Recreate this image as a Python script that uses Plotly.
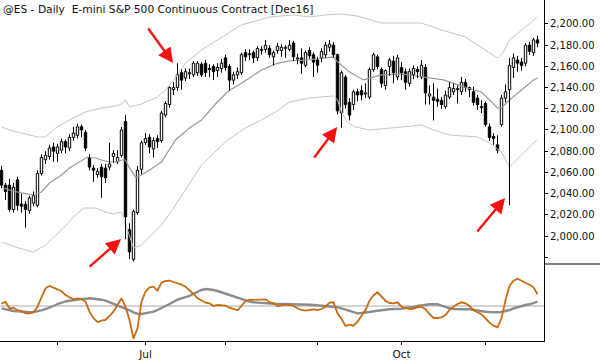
import plotly.graph_objects as go

# ---------------- data ----------------
month_tick_idx = [14, 36, 56, 79, 100, 121]
month_tick_text = ["", "Jul", "", "", "Oct", ""]
price_ticks = list(range(1980, 2201, 20))

opens = [2062, 2048, 2048, 2025, 2053, 2030, 2030, 2024, 2031, 2029,
         2059, 2072, 2075, 2084, 2078, 2081, 2089, 2083, 2093, 2095,
         2103, 2098, 2074, 2064, 2058, 2065, 2064, 2065, 2075, 2070,
         2076, 2108, 2006, 1978, 2022, 2063, 2088, 2093, 2082, 2092,
         2090, 2114, 2124, 2138, 2140, 2154, 2149, 2153, 2152, 2154,
         2162, 2163, 2158, 2160, 2156, 2158, 2168, 2160, 2147, 2152,
         2154, 2173, 2171, 2173, 2168, 2175, 2176, 2177, 2169, 2175,
         2175, 2177, 2176, 2182, 2167, 2168, 2161, 2175, 2171, 2166,
         2168, 2171, 2178, 2180, 2171, 2116, 2150, 2126, 2124, 2136,
         2137, 2134, 2131, 2157, 2169, 2157, 2142, 2160, 2165, 2150,
         2159, 2155, 2144, 2152, 2157, 2150, 2159, 2132, 2131, 2129,
         2128, 2122, 2131, 2136, 2138, 2136, 2145, 2140, 2136, 2130,
         2122, 2125, 2103, 2094, 2086, 2105, 2130, 2138, 2159, 2166,
         2164, 2163, 2180, 2173, 2185]
highs = [2066, 2050, 2054, 2050, 2056, 2040, 2033, 2038, 2042, 2062,
         2077, 2080, 2086, 2088, 2087, 2092, 2091, 2096, 2103, 2106,
         2105, 2100, 2077, 2067, 2064, 2068, 2068, 2088, 2081, 2081,
         2103, 2114, 2012, 2025, 2066, 2090, 2097, 2096, 2093, 2095,
         2118, 2127, 2141, 2145, 2163, 2157, 2158, 2158, 2165, 2165,
         2164, 2166, 2162, 2162, 2163, 2167, 2171, 2162, 2155, 2159,
         2173, 2176, 2176, 2175, 2179, 2179, 2185, 2180, 2175, 2182,
         2181, 2180, 2185, 2184, 2172, 2177, 2175, 2178, 2173, 2169,
         2177, 2183, 2185, 2183, 2172, 2156, 2152, 2130, 2138, 2139,
         2142, 2144, 2159, 2173, 2171, 2159, 2157, 2168, 2170, 2171,
         2164, 2158, 2158, 2161, 2160, 2166, 2162, 2142, 2144, 2139,
         2131, 2137, 2145, 2144, 2142, 2150, 2148, 2141, 2141, 2133,
         2128, 2127, 2106, 2097, 2095, 2133, 2143, 2168, 2172, 2170,
         2168, 2182, 2183, 2187, 2189]
lows = [2045, 2034, 2023, 2022, 2024, 2022, 2008, 2021, 2028, 2027,
        2057, 2068, 2072, 2070, 2070, 2078, 2078, 2080, 2090, 2092,
        2093, 2080, 2062, 2051, 2055, 2036, 2050, 2062, 2069, 2068,
        2074, 1997, 1978, 1976, 2020, 2058, 2086, 2078, 2074, 2083,
        2088, 2112, 2121, 2133, 2137, 2138, 2146, 2148, 2150, 2151,
        2150, 2150, 2150, 2147, 2150, 2154, 2156, 2137, 2143, 2148,
        2152, 2165, 2166, 2163, 2165, 2171, 2173, 2168, 2161, 2172,
        2169, 2168, 2174, 2165, 2162, 2153, 2159, 2167, 2150, 2154,
        2164, 2168, 2174, 2168, 2115, 2102, 2120, 2109, 2119, 2127,
        2128, 2130, 2129, 2155, 2157, 2140, 2138, 2151, 2144, 2147,
        2147, 2138, 2141, 2148, 2149, 2148, 2124, 2124, 2109, 2122,
        2120, 2120, 2129, 2133, 2125, 2133, 2136, 2131, 2123, 2119,
        2116, 2103, 2090, 2086, 2078, 2103, 2126, 2029, 2149, 2155,
        2156, 2160, 2171, 2170, 2178]
closes = [2048, 2042, 2025, 2046, 2029, 2028, 2025, 2036, 2038, 2059,
          2074, 2076, 2083, 2080, 2084, 2089, 2084, 2093, 2097, 2103,
          2100, 2083, 2065, 2062, 2061, 2056, 2055, 2068, 2078, 2074,
          2100, 2018, 1985, 2023, 2062, 2088, 2092, 2084, 2090, 2089,
          2116, 2125, 2140, 2140, 2152, 2147, 2155, 2154, 2163, 2163,
          2152, 2154, 2157, 2155, 2159, 2163, 2159, 2147, 2152, 2155,
          2171, 2169, 2172, 2168, 2177, 2176, 2180, 2171, 2173, 2179,
          2178, 2178, 2180, 2169, 2168, 2163, 2173, 2170, 2164, 2161,
          2174, 2180, 2181, 2171, 2118, 2154, 2124, 2114, 2136, 2133,
          2133, 2135, 2157, 2171, 2160, 2144, 2156, 2166, 2154, 2168,
          2154, 2145, 2155, 2158, 2155, 2161, 2135, 2134, 2128, 2127,
          2124, 2133, 2140, 2139, 2139, 2145, 2140, 2138, 2126, 2124,
          2121, 2105, 2093, 2092, 2081, 2130, 2136, 2161, 2168, 2163,
          2161, 2180, 2174, 2185, 2182]

# envelope / average lines, read at sample bars
upper_idx = [0, 2, 5, 9, 11, 13.5, 16, 18.5, 21, 25, 28.5, 30, 31, 32, 35, 39, 41,
             43, 46, 50, 55, 60, 67, 73, 77, 81, 85, 89, 95, 100, 105, 110, 116,
             124, 125.5, 127, 130, 134]
upper_val = [2102.8, 2100, 2097.2, 2093.4, 2093.4, 2101.9, 2107.5, 2112.3, 2117,
             2120.8, 2122.6, 2124.5, 2128.3, 2121.7, 2124.5, 2131.1, 2137.7,
             2147.2, 2163.2, 2175.5, 2187.7, 2199.1, 2206.6, 2208.5, 2206.6,
             2208.5, 2209.4, 2207.5, 2200.9, 2200.9, 2200.9, 2194.3, 2187.7,
             2167.9, 2173.6, 2184.9, 2194.3, 2206.6]
mid_idx = [0, 2, 5, 8, 10, 12, 15, 17, 21.5, 23.5, 25, 27, 29, 30, 31, 32, 33.5,
           35, 37, 40, 43.5, 47, 50, 53.5, 57, 58.5, 62, 65, 68.5, 72, 76.5, 83,
           84, 87, 90.5, 95, 100, 105, 110.5, 116.5, 120, 124, 125, 127, 133, 134]
mid_val = [2046.2, 2043.4, 2040.6, 2038.7, 2041.5, 2050, 2057.5, 2064.2, 2074.5,
           2073.6, 2071.7, 2069.8, 2069.8, 2071.7, 2071.7, 2064.2, 2055.7, 2057.5,
           2062.3, 2069.8, 2090.6, 2101.9, 2109.4, 2124.5, 2137.7, 2140.6, 2149.1,
           2156.6, 2162.3, 2165.1, 2166, 2168.9, 2164.2, 2154.7, 2147.2, 2151.9,
           2152.8, 2150, 2147.2, 2139.6, 2135.8, 2120.8, 2120.8, 2128.3, 2147.2,
           2149.1]
lower_idx = [0, 3.5, 8, 11, 15, 18.5, 20.5, 23.5, 26, 28, 30, 30.5, 32, 33, 35,
             37, 40, 43.5, 50, 56.5, 61, 65, 68.5, 72, 77, 83, 84, 85, 86.5, 88.5,
             92, 100, 105, 108, 112, 119, 122, 125, 127, 133, 134]
lower_val = [1994.3, 1989.6, 1984.9, 1991.5, 2005.7, 2019.8, 2026.4, 2026.4,
             2022.6, 2020.8, 2022.6, 2017, 2001, 1988.7, 1991.5, 1999.1, 2010.4,
             2029.2, 2067, 2090.6, 2101.9, 2109.4, 2117, 2126.4, 2130.2, 2132.1,
             2128.3, 2117, 2107.5, 2102.8, 2100, 2102.8, 2104.7, 2100, 2095.3,
             2093.4, 2087.7, 2079.2, 2065.1, 2087.7, 2090.6]

# lower-panel oscillator (unlabelled units)
osc_fast = [2.3, 4, -2.3, -2, -4, -5, -7.3, -7.3, -6.3, -0.7,
            8.7, 17.7, 20, 18.7, 16.7, 14.7, 11, 8.7, 6.7, 7.7,
            7, 4.3, -5.7, -12.3, -16, -14.7, -14, -10, -5.7, 1,
            7.7, -0.7, -14, -32.7, -22.3, 4.3, 14.3, 18.7, 19.3, 15.3,
            23.3, 25, 25.3, 24, 22.7, 21.3, 19.3, 16, 12, 7.7,
            5.3, 3.3, 2.7, 0, 1, 0.7, 0.3, -1.7, -3.3, -4.3,
            0, 5, 6, 6, 6, 6, 6.7, 4, 2.7, 0,
            0.7, 1.3, 1, 0, -2.3, -4, -4.7, -4, -3.3, -4,
            -3, -0.7, 3.3, 3.7, -7.3, -12.7, -20, -18.7, -19.7, -15.7,
            -10, -4, 5.3, 10.7, 13.7, 10, 5.3, 3, 2.7, 3.7,
            -0.7, -2, -3, -2.7, -1.3, -0.7, -3.3, -8, -12, -12,
            -11.3, -9, -4, -0.7, 2, 3.7, 2.7, 0, -4, -6.3,
            -8.3, -12.3, -16.7, -19.7, -21.3, -12.3, 6, 20, 25.3, 27.3,
            25.7, 23.3, 21.3, 18.7, 11.7]
osc_slow = [-2.3, -3.3, -4.3, -5, -5.3, -5.7, -6, -6.3, -6, -5.3,
            -4.3, -3, -1.7, 0, 2, 3.7, 4.7, 5.3, 6, 6.7,
            7, 7.3, 7.7, 7.3, 7, 6.3, 5.3, 3.7, 2.3, 1,
            -0.3, -2, -4.3, -6.3, -7.7, -8, -7.3, -6.7, -5.7, -4,
            -2.3, 0, 2, 4.3, 6.3, 7.7, 8.7, 10, 12.3, 14.3,
            16, 17, 16.7, 16, 15, 13.7, 12.3, 11, 9.7, 8.3,
            6.7, 5.3, 4.3, 3.7, 3.3, 3, 2.7, 2.3, 2, 2,
            2, 2, 2, 2, 2, 2, 1.7, 1.3, 1, 0.7,
            0.3, 0, -0.7, -1, -1.3, -2.3, -3.7, -5, -6.3, -7.3,
            -7, -6.7, -6, -5.3, -4.7, -4, -3.3, -3.3, -3, -3,
            -2.7, -2, -1.7, -1, 0, 0.7, 1.3, 1.7, 1.7, 1.7,
            0.3, -1.3, -2.3, -3, -3.3, -3.3, -3.3, -3.3, -4, -4.3,
            -5, -5.7, -6, -6.3, -6.3, -6, -5.3, -4, -2.3, -1,
            0, 1, 1.7, 2.7, 4.3]

# arrows: (bar position, price at head, pixel offset of tail)
arrow_bar = [42.9, 29.9, 83.9, 125.9]
arrow_price = [2163.2, 1997.2, 2102.8, 2035.8]
arrow_dx = [-26, -33, -24, -29]
arrow_dy = [-36, 29, 32, 35]

title_text = "@ES - Daily \u00a0E-mini S&P 500 Continuous Contract [Dec16]"

# ---------------- figure ----------------
FONT = "DejaVu Sans"
n = len(closes)
idx = list(range(n))
xr = [-0.375, 135.625]

fig = go.Figure()

# bands
fig.add_trace(go.Scatter(x=upper_idx, y=upper_val, mode="lines",
                         line=dict(color="#c6c6c6", width=1), hoverinfo="skip"))
fig.add_trace(go.Scatter(x=lower_idx, y=lower_val, mode="lines",
                         line=dict(color="#c6c6c6", width=1), hoverinfo="skip"))
fig.add_trace(go.Scatter(x=mid_idx, y=mid_val, mode="lines",
                         line=dict(color="#9a9a9a", width=1.2), hoverinfo="skip"))

# wicks (split around body so white bodies stay white)
wx, wy = [], []
for i in idx:
    top = max(opens[i], closes[i])
    bot = min(opens[i], closes[i])
    wx += [i, i, None, i, i, None]
    wy += [highs[i], top, None, bot, lows[i], None]
fig.add_trace(go.Scatter(x=wx, y=wy, mode="lines",
                         line=dict(color="black", width=1), hoverinfo="skip"))

# bodies
for up in (True, False):
    xs, base, h = [], [], []
    for i in idx:
        if (closes[i] >= opens[i]) == up:
            xs.append(i)
            b = min(opens[i], closes[i])
            base.append(b)
            h.append(max(abs(closes[i] - opens[i]), 0.9))
    fig.add_trace(go.Bar(x=xs, y=h, base=base, width=0.6,
                         marker=dict(color="white" if up else "black",
                                     line=dict(color="black", width=1)),
                         hoverinfo="skip"))

# oscillator panel
fig.add_trace(go.Scatter(x=idx, y=osc_slow, mode="lines", xaxis="x2", yaxis="y2",
                         line=dict(color="#8c8c8c", width=2.4), hoverinfo="skip"))
fig.add_trace(go.Scatter(x=idx, y=osc_fast, mode="lines", xaxis="x2", yaxis="y2",
                         line=dict(color="#cc6a10", width=1.8), hoverinfo="skip"))

split = 77 / 341
fig.update_layout(
    width=600, height=360,
    margin=dict(l=0, r=56, t=0, b=19),
    paper_bgcolor="white", plot_bgcolor="white",
    showlegend=False, barmode="overlay",
    font=dict(family=FONT, size=10, color="#111"),
    xaxis=dict(domain=[0, 1], anchor="y", range=xr, visible=False),
    yaxis=dict(domain=[split, 1], anchor="x", side="right",
               range=[1973.6, 2222.6], tickvals=price_ticks,
               ticktext=["" if v == 1980 else f"{v:,.2f}" for v in price_ticks],
               ticks="outside", ticklen=3, tickcolor="black",
               showline=True, linecolor="black", linewidth=1,
               showgrid=False, zeroline=False,
               tickfont=dict(family=FONT, size=10, color="#111")),
    xaxis2=dict(domain=[0, 1], anchor="y2", range=xr,
                tickvals=month_tick_idx, ticktext=month_tick_text,
                ticks="outside", ticklen=3, tickcolor="black",
                showline=True, linecolor="black", linewidth=1,
                showgrid=False, zeroline=False,
                tickfont=dict(family=FONT, size=10.5, color="#111")),
    yaxis2=dict(domain=[0, split], anchor="x2", side="right", range=[-35, 42],
                showticklabels=False, ticks="", showline=True,
                linecolor="black", linewidth=1, showgrid=False, zeroline=False),
    shapes=[
        dict(type="line", xref="paper", yref="y2", x0=0, x1=1, y0=0, y1=0,
             line=dict(color="#a8a8a8", width=1), layer="below"),
        dict(type="line", xref="paper", yref="paper", x0=1, x1=1 + 56 / 544,
             y0=split, y1=split, line=dict(color="black", width=1)),
    ],
    annotations=[
        dict(text=title_text, xref="paper", yref="paper", x=0, y=1,
             xanchor="left", yanchor="top", xshift=1, yshift=-1, showarrow=False,
             font=dict(family=FONT, size=10.7, color="#111")),
    ] + [
        dict(x=bx, y=py, xref="x", yref="y", ax=dx, ay=dy, axref="pixel",
             ayref="pixel", text="", showarrow=True, arrowhead=2, arrowsize=1.25,
             arrowwidth=2.4, arrowcolor="#ff1010", standoff=0)
        for bx, py, dx, dy in zip(arrow_bar, arrow_price, arrow_dx, arrow_dy)
    ],
)

fig.write_html("out.html",
               config={"displayModeBar": False, "staticPlot": True},
               post_script="document.body.style.margin='0';"
                           "document.body.style.padding='0';")
